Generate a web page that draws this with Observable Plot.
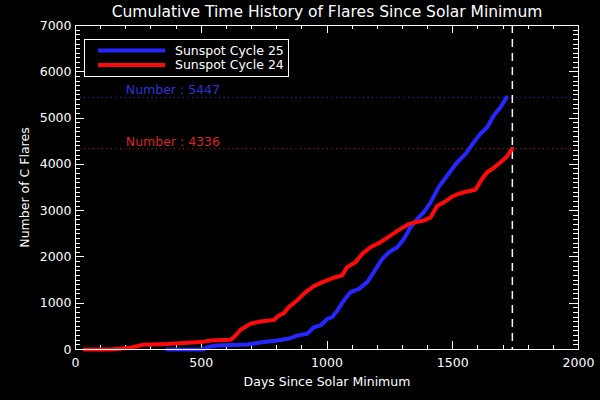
<!DOCTYPE html>
<html><head><meta charset="utf-8">
<script src="https://cdn.jsdelivr.net/npm/d3@7"></script>
<script src="https://cdn.jsdelivr.net/npm/@observablehq/plot@0.6"></script>
<style>body{margin:0;background:#000;}</style>
</head><body><div id="chart"></div>
<script>
const cycle24Days = [36,139,219,265,364,510,537,616,630,656,696,735,789,809,828,848,881,915,948,987,1027,1060,1080,1113,1140,1173,1213,1252,1286,1325,1352,1385,1412,1438,1465,1498,1524,1557,1590,1617,1637,1663,1690,1716,1736];
const cycle24Counts = [0,0,37,100,120,170,195,210,265,425,555,605,640,735,785,915,1060,1240,1370,1465,1550,1600,1780,1885,2065,2210,2320,2460,2585,2710,2750,2785,2855,3100,3180,3305,3365,3415,3450,3690,3830,3925,4045,4170,4336];
const cycle25Days = [364,504,537,563,683,749,802,855,881,921,948,974,1001,1021,1041,1067,1094,1127,1160,1186,1220,1246,1279,1306,1332,1359,1385,1412,1445,1478,1518,1551,1584,1610,1637,1663,1690,1714];
const cycle25Counts = [0,0,65,85,110,160,195,245,300,340,480,520,660,700,840,1060,1240,1310,1455,1670,1960,2100,2210,2390,2640,2820,2965,3180,3520,3760,4045,4225,4480,4660,4800,5055,5235,5447];
const seriesNames = ["Sunspot Cycle 25", "Sunspot Cycle 24"];
const seriesColors = ["#2626ff", "#ff0a0a"];
const labelColors = ["#3030d8", "#dc2222"];
const finalCounts = [5447, 4336];
const currentDay = 1737;
const xMajorTicks = [0, 500, 1000, 1500, 2000];
const yMajorTicks = [0, 1000, 2000, 3000, 4000, 5000, 6000, 7000];
const xMinorTicks = d3.range(0, 2001, 100).filter(d => d % 500 !== 0);
const yMinorTicks = d3.range(0, 7001, 100).filter(d => d % 1000 !== 0);
const titleText = "Cumulative Time History of Flares Since Solar Minimum";
const xLabel = "Days Since Solar Minimum";
const yLabel = "Number of C Flares";

const W = 600, H = 400, mL = 75, mR = 22, mT = 25, mB = 51;

const c25 = cycle25Days.map((d, i) => ({day: d, count: cycle25Counts[i]}));
const c24 = cycle24Days.map((d, i) => ({day: d, count: cycle24Counts[i]}));
const finals = finalCounts.map((v, i) => ({v, lc: labelColors[i], label: "Number : " + v}));

// inward-pointing box ticks on all four sides, positioned through Plot's scales
function boxTicks(index, scales, values, dim) {
  const g = d3.create("svg:g").attr("stroke", "white").attr("stroke-width", 1);
  const top = dim.marginTop, bottom = dim.height - dim.marginBottom;
  const left = dim.marginLeft, right = dim.width - dim.marginRight;
  const xt = [...xMajorTicks.map(v => [v, 8]), ...xMinorTicks.map(v => [v, 4])];
  const yt = [...yMajorTicks.map(v => [v, 9]), ...yMinorTicks.map(v => [v, 5])];
  for (const [v, len] of xt) {
    const x = Math.round(scales.x(v)) + 0.5;
    g.append("line").attr("x1", x).attr("x2", x).attr("y1", bottom).attr("y2", bottom - len);
    g.append("line").attr("x1", x).attr("x2", x).attr("y1", top).attr("y2", top + len);
  }
  for (const [v, len] of yt) {
    const y = Math.round(scales.y(v)) + 0.5;
    g.append("line").attr("y1", y).attr("y2", y).attr("x1", left).attr("x2", left + len);
    g.append("line").attr("y1", y).attr("y2", y).attr("x1", right).attr("x2", right - len);
  }
  return g.node();
}

function legend() {
  const g = d3.create("svg:g");
  g.append("rect").attr("x", 84.5).attr("y", 39.5).attr("width", 204).attr("height", 37)
    .attr("fill", "black").attr("stroke", "white").attr("stroke-width", 1);
  seriesNames.forEach((name, i) => {
    const y = 50.5 + i * 14.5;
    g.append("line").attr("x1", 98).attr("x2", 165).attr("y1", y).attr("y2", y)
      .attr("stroke", seriesColors[i]).attr("stroke-width", 4);
    g.append("text").attr("x", 175).attr("y", y).attr("dy", "0.35em")
      .attr("text-anchor", "start")
      .attr("fill", "white").attr("font-size", 12.5).text(name);
  });
  return g.node();
}

const chart = Plot.plot({
  width: W, height: H,
  marginLeft: mL, marginRight: mR, marginTop: mT, marginBottom: mB,
  style: {background: "black", color: "white", fontFamily: "DejaVu Sans", fontSize: "12.5px"},
  x: {domain: [0, 2000]},
  y: {domain: [0, 7000]},
  marks: [
    Plot.axisX({ticks: xMajorTicks, tickSize: 0, tickPadding: 9, tickFormat: d => String(d), label: null, fill: "white", fontSize: 12.5}),
    Plot.axisY({ticks: yMajorTicks, tickSize: 0, tickPadding: 4, tickFormat: d => String(d), label: null, fill: "white", fontSize: 12.5}),
    boxTicks,
    Plot.ruleY(finals, {y: "v", stroke: "lc", strokeWidth: 1, strokeDasharray: "1,3.5"}),
    Plot.ruleX([currentDay], {stroke: "white", strokeWidth: 1.5, strokeDasharray: "8,6"}),
    Plot.line(c25, {x: "day", y: "count", stroke: seriesColors[0], strokeWidth: 4, strokeLinejoin: "round", strokeLinecap: "round"}),
    Plot.line(c24, {x: "day", y: "count", stroke: seriesColors[1], strokeWidth: 4, strokeLinejoin: "round", strokeLinecap: "round"}),
    Plot.text(finals, {x: 200, y: "v", text: "label", fill: "lc", textAnchor: "start", dy: -7, fontSize: 12.5}),
    Plot.frame({stroke: "white"}),
    legend,
    Plot.text([titleText], {frameAnchor: "top", lineAnchor: "middle", textAnchor: "middle", dy: -13, fill: "white", fontSize: 15.5}),
    Plot.text([xLabel], {frameAnchor: "bottom", lineAnchor: "middle", textAnchor: "middle", dy: 32, fill: "white", fontSize: 12.5}),
    Plot.text([yLabel], {frameAnchor: "left", lineAnchor: "middle", textAnchor: "middle", dx: -51, rotate: -90, fill: "white", fontSize: 12.5})
  ]
});
document.getElementById("chart").appendChild(chart);
</script>
</body></html>
